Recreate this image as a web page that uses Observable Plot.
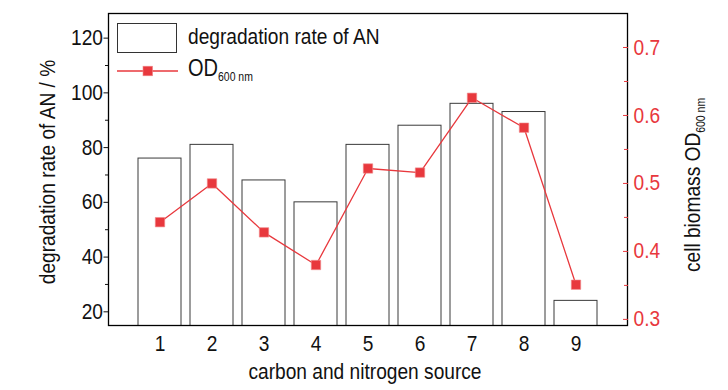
<!DOCTYPE html>
<html><head><meta charset="utf-8">
<script src="https://cdn.jsdelivr.net/npm/d3@7"></script>
<script src="https://cdn.jsdelivr.net/npm/@observablehq/plot@0.6"></script>
<style>
body{margin:0;background:#fff;}
#wrap{position:relative;width:728px;height:390px;overflow:hidden;font-family:"Liberation Sans",Arial,sans-serif;color:#111;}
#wrap svg{position:absolute;left:0;top:0;}
.t{position:absolute;white-space:nowrap;font-size:22px;line-height:1;}
sub{font-size:12px;vertical-align:baseline;position:relative;top:5px;}
</style></head><body><div id="wrap"></div>
<script>
const sources = [1,2,3,4,5,6,7,8,9];
const degradationRate = [76,81,68,60,81,88,96,93,24];
const od600 = [0.443,0.500,0.428,0.380,0.522,0.516,0.626,0.582,0.351];
const leftTicks = [20,40,60,80,100,120];
const leftMinor = [30,50,70,90,110];
const rightTicks = [0.3,0.4,0.5,0.6,0.7];
const rightMinor = [0.35,0.45,0.55,0.65];

const data = sources.map((s,i)=>({src:s, rate:degradationRate[i], od:od600[i]}));
const RED = "#e8383d";
const FONT = '"Liberation Sans",Arial,sans-serif';
const K = 0.87; // horizontal squeeze to mimic a narrow face
const W=728,H=390,ML=108,MR=101,MT=13,MB=65;
const common = {width:W,height:H,marginLeft:ML,marginRight:MR,marginTop:MT,marginBottom:MB,
  style:{fontFamily:FONT,fontSize:"22px",background:"transparent",color:"#111",overflow:"visible"}};
const xOpt = {type:"band",domain:sources,paddingInner:0.18,paddingOuter:0.5,align:0.5};

const p1 = Plot.plot({
  ...common,
  x:{...xOpt},
  y:{domain:[15,129]},
  marks:[
    Plot.barY(data,{x:"src",y:"rate",fill:"white",stroke:"#3a3a3a",strokeWidth:1,clip:true}),
    Plot.frame({stroke:"#000",strokeWidth:1.3}),
    Plot.axisY(leftTicks,{anchor:"left",tickSize:4.5,tickPadding:1,label:null,fontSize:22,color:"#111"}),
    Plot.axisY(leftMinor,{anchor:"left",tickSize:3,text:null,label:null,color:"#111"}),
    Plot.axisX({anchor:"bottom",tickSize:0,tickPadding:10,label:null,fontSize:22,color:"#111"})
  ]
});

const p2 = Plot.plot({
  ...common,
  x:{...xOpt,axis:null},
  y:{domain:[0.291,0.75]},
  marks:[
    Plot.axisY(rightTicks,{anchor:"right",tickSize:0,tickPadding:6,label:null,fontSize:22,color:RED,tickFormat:d3.format(".1f"),line:true,strokeWidth:1.3}),
    Plot.axisY(rightTicks,{anchor:"right",tickSize:5,dx:-5,text:null,label:null,color:RED}),
    Plot.axisY(rightMinor,{anchor:"right",tickSize:4,dx:-4,text:null,label:null,color:RED}),
    Plot.line(data,{x:"src",y:"od",stroke:RED,strokeWidth:1.3}),
    Plot.dot(data,{x:"src",y:"od",symbol:"square",r:5.3,fill:RED,stroke:"#f08a8c",strokeWidth:0.6})
  ]
});

const wrap = document.getElementById("wrap");
wrap.append(p1,p2);

function squeeze(svg, k){
  svg.querySelectorAll("text").forEach(t=>{
    const bb = t.getBBox();
    const anchor = getComputedStyle(t).textAnchor;
    const ax = anchor === "end" ? bb.x + bb.width : anchor === "middle" ? bb.x + bb.width/2 : bb.x;
    const tr = t.getAttribute("transform") || "";
    t.setAttribute("transform", `${tr} translate(${ax},0) scale(${k},1) translate(${-ax},0)`);
  });
}
squeeze(p1,K); squeeze(p2,K);

function addText(html, x, y, transform){
  const d = document.createElement("div");
  d.className = "t";
  d.style.left = x+"px"; d.style.top = y+"px";
  d.style.transform = transform;
  d.innerHTML = html;
  wrap.append(d);
  return d;
}
// axis titles
addText("degradation rate of AN / %", 48, 172, `translate(-50%,-50%) rotate(-90deg) scaleX(${K})`);
addText("cell biomass OD<sub>600 nm</sub>", 693, 185, `translate(-50%,-50%) rotate(-90deg) scaleX(${K})`);
addText("carbon and nitrogen source", 365, 372, `translate(-50%,-50%) scaleX(${K})`);

// legend
const box = document.createElement("div");
Object.assign(box.style,{position:"absolute",left:"117px",top:"23px",width:"58px",height:"28px",border:"1px solid #333",background:"#fff"});
wrap.append(box);
const l1 = addText("degradation rate of AN", 188, 38, `translateY(-55%) scaleX(${K})`);
l1.style.transformOrigin = "0 50%";
const ns="http://www.w3.org/2000/svg";
const lg = document.createElementNS(ns,"svg");
lg.setAttribute("width","80");lg.setAttribute("height","20");
Object.assign(lg.style,{position:"absolute",left:"110px",top:"61px"});
lg.innerHTML = `<line x1="7" x2="68" y1="10" y2="10" stroke="${RED}" stroke-width="1.3"/><rect x="33" y="5.2" width="9.6" height="9.6" fill="${RED}" stroke="#f08a8c" stroke-width="0.6"/>`;
wrap.append(lg);
const l2 = addText("OD<sub>600 nm</sub>", 188, 70, `translateY(-55%) scaleX(${K})`);
l2.style.transformOrigin = "0 50%";
l2.style.fontSize = "23px";
</script>
</body></html>
